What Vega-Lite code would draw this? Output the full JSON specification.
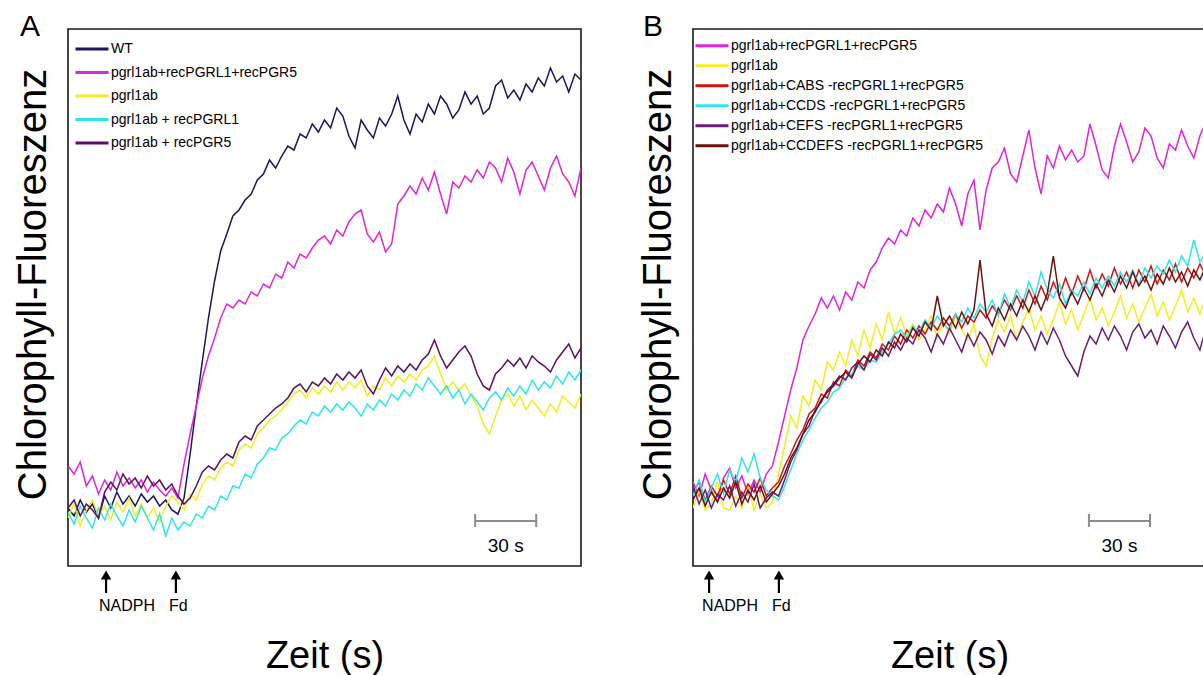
{
  "$schema": "https://vega.github.io/schema/vega-lite/v6.json",
  "background": "white",
  "padding": {"left": 12, "top": 10, "right": 0, "bottom": 0},
  "spacing": 55,
  "resolve": {"scale": {"color": "independent"}, "legend": {"color": "independent"}},
  "config": {
    "font": "Liberation Sans",
    "view": {"stroke": "#1a1a1a", "strokeWidth": 1.6},
    "axis": {"grid": false, "labels": false, "ticks": false, "domain": false, "titleFont": "Liberation Sans", "titleFontWeight": "normal", "titleColor": "black"},
    "title": {"font": "Liberation Sans", "fontWeight": "normal", "color": "black"}
  },
  "datasets": {
    "a": [
      {"t":0,"WT":58,"M":100,"Y":48,"C":54,"P":58},
      {"t":3,"WT":50,"M":92,"Y":62,"C":42,"P":66},
      {"t":6,"WT":66,"M":104,"Y":40,"C":60,"P":50},
      {"t":9,"WT":54,"M":80,"Y":56,"C":48,"P":62},
      {"t":12,"WT":62,"M":90,"Y":66,"C":38,"P":56},
      {"t":15,"WT":48,"M":72,"Y":50,"C":58,"P":48},
      {"t":18,"WT":70,"M":86,"Y":60,"C":46,"P":74},
      {"t":21,"WT":58,"M":76,"Y":46,"C":62,"P":84},
      {"t":24,"WT":74,"M":94,"Y":64,"C":50,"P":76},
      {"t":27,"WT":62,"M":80,"Y":54,"C":40,"P":92},
      {"t":30,"WT":70,"M":88,"Y":68,"C":56,"P":82},
      {"t":33,"WT":60,"M":78,"Y":50,"C":44,"P":88},
      {"t":36,"WT":72,"M":86,"Y":62,"C":60,"P":78},
      {"t":39,"WT":64,"M":74,"Y":48,"C":48,"P":90},
      {"t":42,"WT":70,"M":84,"Y":58,"C":36,"P":80},
      {"t":45,"WT":60,"M":76,"Y":44,"C":52,"P":86},
      {"t":48,"WT":66,"M":70,"Y":60,"C":30,"P":76},
      {"t":51,"WT":56,"M":78,"Y":70,"C":48,"P":82},
      {"t":54,"WT":52,"M":68,"Y":64,"C":36,"P":70},
      {"t":57,"WT":68,"M":102,"Y":56,"C":44,"P":62},
      {"t":60,"WT":112,"M":132,"Y":72,"C":40,"P":68},
      {"t":63,"WT":160,"M":160,"Y":66,"C":52,"P":80},
      {"t":66,"WT":205,"M":188,"Y":82,"C":48,"P":94},
      {"t":69,"WT":248,"M":210,"Y":90,"C":60,"P":100},
      {"t":72,"WT":285,"M":228,"Y":86,"C":56,"P":96},
      {"t":75,"WT":315,"M":248,"Y":98,"C":70,"P":106},
      {"t":78,"WT":332,"M":262,"Y":104,"C":66,"P":112},
      {"t":81,"WT":350,"M":258,"Y":100,"C":80,"P":108},
      {"t":84,"WT":356,"M":266,"Y":116,"C":78,"P":124},
      {"t":87,"WT":366,"M":262,"Y":122,"C":92,"P":130},
      {"t":90,"WT":372,"M":274,"Y":118,"C":88,"P":126},
      {"t":93,"WT":386,"M":270,"Y":132,"C":102,"P":140},
      {"t":96,"WT":392,"M":282,"Y":138,"C":108,"P":146},
      {"t":99,"WT":406,"M":278,"Y":146,"C":118,"P":152},
      {"t":102,"WT":398,"M":292,"Y":150,"C":116,"P":158},
      {"t":105,"WT":410,"M":288,"Y":156,"C":128,"P":162},
      {"t":108,"WT":420,"M":304,"Y":164,"C":132,"P":168},
      {"t":111,"WT":416,"M":298,"Y":172,"C":140,"P":178},
      {"t":114,"WT":432,"M":312,"Y":176,"C":146,"P":182},
      {"t":117,"WT":428,"M":308,"Y":168,"C":142,"P":174},
      {"t":120,"WT":442,"M":318,"Y":178,"C":154,"P":184},
      {"t":123,"WT":434,"M":326,"Y":172,"C":150,"P":180},
      {"t":126,"WT":446,"M":330,"Y":180,"C":160,"P":188},
      {"t":129,"WT":438,"M":322,"Y":174,"C":154,"P":182},
      {"t":132,"WT":458,"M":336,"Y":184,"C":162,"P":192},
      {"t":135,"WT":450,"M":330,"Y":176,"C":156,"P":186},
      {"t":138,"WT":430,"M":344,"Y":184,"C":164,"P":194},
      {"t":141,"WT":418,"M":352,"Y":178,"C":158,"P":188},
      {"t":144,"WT":446,"M":356,"Y":186,"C":150,"P":196},
      {"t":147,"WT":436,"M":332,"Y":170,"C":162,"P":180},
      {"t":150,"WT":428,"M":324,"Y":180,"C":156,"P":172},
      {"t":153,"WT":448,"M":334,"Y":176,"C":166,"P":186},
      {"t":156,"WT":440,"M":314,"Y":188,"C":160,"P":198},
      {"t":159,"WT":452,"M":322,"Y":180,"C":172,"P":190},
      {"t":162,"WT":470,"M":362,"Y":190,"C":166,"P":200},
      {"t":165,"WT":446,"M":370,"Y":184,"C":176,"P":194},
      {"t":168,"WT":432,"M":380,"Y":192,"C":170,"P":202},
      {"t":171,"WT":452,"M":372,"Y":186,"C":182,"P":196},
      {"t":174,"WT":444,"M":388,"Y":196,"C":176,"P":206},
      {"t":177,"WT":462,"M":376,"Y":200,"C":188,"P":212},
      {"t":180,"WT":452,"M":394,"Y":210,"C":180,"P":226},
      {"t":183,"WT":470,"M":372,"Y":192,"C":172,"P":210},
      {"t":186,"WT":462,"M":352,"Y":176,"C":180,"P":198},
      {"t":189,"WT":448,"M":384,"Y":184,"C":168,"P":206},
      {"t":192,"WT":456,"M":378,"Y":176,"C":176,"P":214},
      {"t":195,"WT":474,"M":390,"Y":182,"C":162,"P":220},
      {"t":198,"WT":462,"M":384,"Y":170,"C":172,"P":210},
      {"t":201,"WT":470,"M":396,"Y":160,"C":164,"P":192},
      {"t":204,"WT":452,"M":388,"Y":142,"C":156,"P":180},
      {"t":207,"WT":458,"M":404,"Y":132,"C":168,"P":176},
      {"t":210,"WT":480,"M":398,"Y":150,"C":174,"P":192},
      {"t":213,"WT":486,"M":384,"Y":166,"C":166,"P":198},
      {"t":216,"WT":468,"M":408,"Y":172,"C":178,"P":206},
      {"t":219,"WT":476,"M":394,"Y":160,"C":170,"P":200},
      {"t":222,"WT":466,"M":372,"Y":170,"C":180,"P":208},
      {"t":225,"WT":482,"M":396,"Y":156,"C":172,"P":198},
      {"t":228,"WT":474,"M":404,"Y":166,"C":186,"P":210},
      {"t":231,"WT":488,"M":390,"Y":158,"C":176,"P":204},
      {"t":234,"WT":480,"M":376,"Y":150,"C":184,"P":200},
      {"t":237,"WT":498,"M":398,"Y":162,"C":178,"P":194},
      {"t":240,"WT":484,"M":410,"Y":154,"C":190,"P":206},
      {"t":243,"WT":490,"M":392,"Y":170,"C":182,"P":214},
      {"t":246,"WT":474,"M":384,"Y":164,"C":194,"P":222},
      {"t":249,"WT":492,"M":370,"Y":158,"C":186,"P":208},
      {"t":252,"WT":486,"M":398,"Y":172,"C":196,"P":218}
    ],
    "b": [
      {"t":0,"M":84,"Y":58,"R":74,"C":70,"P":80,"B":66},
      {"t":3,"M":70,"Y":76,"R":84,"C":86,"P":62,"B":78},
      {"t":6,"M":92,"Y":56,"R":66,"C":64,"P":76,"B":60},
      {"t":9,"M":76,"Y":62,"R":80,"C":78,"P":58,"B":74},
      {"t":12,"M":64,"Y":84,"R":70,"C":92,"P":72,"B":64},
      {"t":15,"M":88,"Y":58,"R":86,"C":72,"P":66,"B":78},
      {"t":18,"M":98,"Y":56,"R":72,"C":96,"P":80,"B":68},
      {"t":21,"M":78,"Y":70,"R":90,"C":84,"P":60,"B":84},
      {"t":24,"M":90,"Y":58,"R":68,"C":108,"P":74,"B":62},
      {"t":27,"M":72,"Y":80,"R":82,"C":94,"P":64,"B":76},
      {"t":30,"M":86,"Y":56,"R":74,"C":112,"P":82,"B":66},
      {"t":33,"M":74,"Y":72,"R":88,"C":88,"P":58,"B":80},
      {"t":36,"M":92,"Y":58,"R":70,"C":76,"P":68,"B":64},
      {"t":39,"M":100,"Y":64,"R":78,"C":70,"P":74,"B":72},
      {"t":42,"M":124,"Y":92,"R":84,"C":66,"P":70,"B":80},
      {"t":45,"M":150,"Y":120,"R":100,"C":80,"P":86,"B":92},
      {"t":48,"M":176,"Y":150,"R":112,"C":96,"P":104,"B":108},
      {"t":51,"M":198,"Y":138,"R":126,"C":112,"P":116,"B":118},
      {"t":54,"M":226,"Y":170,"R":136,"C":126,"P":132,"B":132},
      {"t":57,"M":240,"Y":160,"R":152,"C":136,"P":140,"B":146},
      {"t":60,"M":252,"Y":186,"R":158,"C":148,"P":156,"B":154},
      {"t":63,"M":268,"Y":176,"R":172,"C":158,"P":164,"B":166},
      {"t":66,"M":258,"Y":204,"R":168,"C":164,"P":176,"B":174},
      {"t":69,"M":270,"Y":196,"R":184,"C":174,"P":182,"B":180},
      {"t":72,"M":256,"Y":214,"R":180,"C":178,"P":190,"B":188},
      {"t":75,"M":274,"Y":200,"R":196,"C":188,"P":186,"B":194},
      {"t":78,"M":266,"Y":226,"R":190,"C":192,"P":198,"B":188},
      {"t":81,"M":284,"Y":210,"R":206,"C":200,"P":204,"B":202},
      {"t":84,"M":278,"Y":236,"R":200,"C":196,"P":196,"B":210},
      {"t":87,"M":296,"Y":218,"R":214,"C":206,"P":212,"B":204},
      {"t":90,"M":304,"Y":242,"R":208,"C":204,"P":206,"B":216},
      {"t":93,"M":318,"Y":226,"R":222,"C":214,"P":218,"B":210},
      {"t":96,"M":328,"Y":254,"R":216,"C":222,"P":210,"B":224},
      {"t":99,"M":322,"Y":232,"R":230,"C":232,"P":224,"B":218},
      {"t":102,"M":336,"Y":248,"R":222,"C":236,"P":216,"B":232},
      {"t":105,"M":330,"Y":230,"R":236,"C":228,"P":228,"B":224},
      {"t":108,"M":348,"Y":242,"R":228,"C":240,"P":222,"B":238},
      {"t":111,"M":340,"Y":226,"R":240,"C":234,"P":236,"B":230},
      {"t":114,"M":356,"Y":236,"R":232,"C":246,"P":228,"B":244},
      {"t":117,"M":348,"Y":250,"R":244,"C":238,"P":214,"B":236},
      {"t":120,"M":362,"Y":228,"R":236,"C":250,"P":232,"B":270},
      {"t":123,"M":354,"Y":244,"R":248,"C":242,"P":222,"B":240},
      {"t":126,"M":378,"Y":232,"R":240,"C":236,"P":238,"B":250},
      {"t":129,"M":362,"Y":250,"R":252,"C":252,"P":226,"B":238},
      {"t":132,"M":340,"Y":236,"R":238,"C":244,"P":214,"B":254},
      {"t":135,"M":372,"Y":226,"R":250,"C":258,"P":232,"B":242},
      {"t":138,"M":386,"Y":242,"R":244,"C":248,"P":220,"B":256},
      {"t":141,"M":336,"Y":210,"R":256,"C":262,"P":234,"B":306},
      {"t":144,"M":376,"Y":200,"R":248,"C":254,"P":226,"B":252},
      {"t":147,"M":398,"Y":228,"R":260,"C":266,"P":212,"B":240},
      {"t":150,"M":404,"Y":246,"R":252,"C":250,"P":230,"B":258},
      {"t":153,"M":418,"Y":234,"R":266,"C":272,"P":220,"B":246},
      {"t":156,"M":392,"Y":250,"R":256,"C":258,"P":236,"B":262},
      {"t":159,"M":384,"Y":226,"R":270,"C":276,"P":226,"B":250},
      {"t":162,"M":410,"Y":244,"R":258,"C":264,"P":240,"B":266},
      {"t":165,"M":436,"Y":258,"R":276,"C":284,"P":230,"B":254},
      {"t":168,"M":398,"Y":236,"R":262,"C":270,"P":216,"B":270},
      {"t":171,"M":372,"Y":250,"R":280,"C":294,"P":234,"B":256},
      {"t":174,"M":410,"Y":232,"R":266,"C":276,"P":222,"B":272},
      {"t":177,"M":398,"Y":246,"R":284,"C":268,"P":238,"B":310},
      {"t":180,"M":420,"Y":264,"R":270,"C":282,"P":226,"B":268},
      {"t":183,"M":406,"Y":242,"R":288,"C":262,"P":210,"B":258},
      {"t":186,"M":416,"Y":256,"R":272,"C":276,"P":200,"B":274},
      {"t":189,"M":404,"Y":236,"R":290,"C":270,"P":190,"B":262},
      {"t":192,"M":410,"Y":252,"R":276,"C":284,"P":214,"B":278},
      {"t":195,"M":442,"Y":268,"R":296,"C":272,"P":230,"B":266},
      {"t":198,"M":420,"Y":246,"R":278,"C":288,"P":222,"B":282},
      {"t":201,"M":396,"Y":258,"R":292,"C":278,"P":238,"B":270},
      {"t":204,"M":388,"Y":240,"R":280,"C":290,"P":226,"B":286},
      {"t":207,"M":420,"Y":254,"R":298,"C":280,"P":240,"B":274},
      {"t":210,"M":442,"Y":270,"R":282,"C":294,"P":230,"B":290},
      {"t":213,"M":424,"Y":248,"R":294,"C":284,"P":216,"B":278},
      {"t":216,"M":404,"Y":262,"R":278,"C":296,"P":234,"B":294},
      {"t":219,"M":414,"Y":244,"R":296,"C":282,"P":242,"B":280},
      {"t":222,"M":438,"Y":258,"R":284,"C":298,"P":228,"B":290},
      {"t":225,"M":430,"Y":272,"R":300,"C":288,"P":236,"B":276},
      {"t":228,"M":408,"Y":250,"R":282,"C":300,"P":222,"B":292},
      {"t":231,"M":398,"Y":264,"R":296,"C":292,"P":240,"B":282},
      {"t":234,"M":422,"Y":246,"R":286,"C":306,"P":230,"B":298},
      {"t":237,"M":416,"Y":260,"R":302,"C":294,"P":218,"B":284},
      {"t":240,"M":436,"Y":276,"R":284,"C":310,"P":234,"B":294},
      {"t":243,"M":420,"Y":254,"R":298,"C":300,"P":244,"B":280},
      {"t":246,"M":408,"Y":268,"R":288,"C":326,"P":228,"B":296},
      {"t":249,"M":430,"Y":252,"R":302,"C":304,"P":216,"B":286},
      {"t":252,"M":444,"Y":270,"R":290,"C":314,"P":238,"B":300}
    ]
  },
  "hconcat": [
    {
      "width": 513,
      "height": 537,
      "title": {"text": "A", "anchor": "start", "frame": "group", "dx": -48, "dy": 29.5, "offset": -13, "baseline": "bottom", "fontSize": 30},
      "layer": [
        {
          "data": {"name": "a"},
          "transform": [{"fold": ["WT", "M", "Y", "C", "P"], "as": ["s", "v"]}],
          "mark": {"type": "line", "strokeWidth": 1.5, "clip": true},
          "encoding": {
            "x": {"field": "t", "type": "quantitative", "scale": {"domain": [0, 252], "nice": false, "zero": false},
                  "axis": {"title": "Zeit (s)", "titleFontSize": 38, "titlePadding": 71}},
            "y": {"field": "v", "type": "quantitative", "scale": {"domain": [0, 537], "nice": false},
                  "axis": {"title": "Chlorophyll-Fluoreszenz", "titleFontSize": 40, "titlePadding": 15, "titleY": 255}},
            "color": {"field": "s", "type": "nominal",
                      "scale": {"domain": ["WT", "M", "Y", "C", "P"], "range": ["#1b1464", "#e024d8", "#f2ee22", "#2ee6ea", "#5c1060"]},
                      "legend": {"title": null, "orient": "none", "legendX": 6, "legendY": 10, "padding": 0,
                                 "symbolType": "stroke", "symbolSize": 1089, "symbolStrokeWidth": 3, "clipHeight": 20,
                                 "labelFontSize": 14, "labelColor": "black", "labelLimit": 400, "labelOffset": 1, "rowPadding": 3.5,
                                 "labelExpr": "datum.label == 'WT' ? 'WT' : datum.label == 'M' ? 'pgrl1ab+recPGRL1+recPGR5' : datum.label == 'Y' ? 'pgrl1ab' : datum.label == 'C' ? 'pgrl1ab + recPGRL1' : 'pgrl1ab + recPGR5'"}}
          }
        },
        {
          "data": {"values": [{"t": 18.7, "lab": "NADPH"}, {"t": 53, "lab": "Fd"}]},
          "mark": {"type": "rule", "strokeWidth": 2.2, "color": "black"},
          "encoding": {"x": {"field": "t", "type": "quantitative"}, "y": {"datum": -13}, "y2": {"datum": -27}}
        },
        {
          "data": {"values": [{"t": 18.7, "lab": "NADPH"}, {"t": 53, "lab": "Fd"}]},
          "mark": {"type": "point", "shape": "triangle-up", "filled": true, "size": 110, "color": "black", "opacity": 1},
          "encoding": {"x": {"field": "t", "type": "quantitative"}, "y": {"datum": -9}}
        },
        {
          "data": {"values": [{"t": 18.7, "lab": "NADPH"}, {"t": 53, "lab": "Fd"}]},
          "mark": {"type": "text", "align": "left", "dx": -7, "baseline": "middle", "fontSize": 16, "color": "black"},
          "encoding": {"x": {"field": "t", "type": "quantitative"}, "y": {"datum": -40}, "text": {"field": "lab"}}
        },
        {
          "data": {"values": [{"t0": 200, "t1": 230}]},
          "mark": {"type": "rule", "strokeWidth": 2, "color": "#8c8c8c"},
          "encoding": {"x": {"field": "t0", "type": "quantitative"}, "x2": {"field": "t1"}, "y": {"datum": 45}}
        },
        {
          "data": {"values": [{"t": 200}, {"t": 230}]},
          "mark": {"type": "rule", "strokeWidth": 2, "color": "#8c8c8c"},
          "encoding": {"x": {"field": "t", "type": "quantitative"}, "y": {"datum": 39}, "y2": {"datum": 52}}
        },
        {
          "data": {"values": [{"t": 215, "lab": "30 s"}]},
          "mark": {"type": "text", "align": "center", "baseline": "alphabetic", "fontSize": 19, "color": "black"},
          "encoding": {"x": {"field": "t", "type": "quantitative"}, "y": {"datum": 14}, "text": {"field": "lab"}}
        }
      ]
    },
    {
      "width": 513,
      "height": 537,
      "title": {"text": "B", "anchor": "start", "frame": "group", "dx": -50, "dy": 29.5, "offset": -13, "baseline": "bottom", "fontSize": 30},
      "layer": [
        {
          "data": {"name": "b"},
          "transform": [{"fold": ["M", "Y", "R", "C", "P", "B"], "as": ["s", "v"]}],
          "mark": {"type": "line", "strokeWidth": 1.5, "clip": true},
          "encoding": {
            "x": {"field": "t", "type": "quantitative", "scale": {"domain": [0, 252], "nice": false, "zero": false},
                  "axis": {"title": "Zeit (s)", "titleFontSize": 38, "titlePadding": 71}},
            "y": {"field": "v", "type": "quantitative", "scale": {"domain": [0, 537], "nice": false},
                  "axis": {"title": "Chlorophyll-Fluoreszenz", "titleFontSize": 40, "titlePadding": 15, "titleY": 255}},
            "color": {"field": "s", "type": "nominal",
                      "scale": {"domain": ["M", "Y", "R", "C", "P", "B"], "range": ["#e024d8", "#f2ee22", "#d11414", "#2ee6ea", "#6a1a78", "#6b0f0f"]},
                      "legend": {"title": null, "orient": "none", "legendX": 1, "legendY": 8, "padding": 0,
                                 "symbolType": "stroke", "symbolSize": 1089, "symbolStrokeWidth": 3, "clipHeight": 17.5,
                                 "labelFontSize": 14, "labelColor": "black", "labelLimit": 400, "labelOffset": 1, "rowPadding": 2,
                                 "labelExpr": "datum.label == 'M' ? 'pgrl1ab+recPGRL1+recPGR5' : datum.label == 'Y' ? 'pgrl1ab' : datum.label == 'R' ? 'pgrl1ab+CABS  -recPGRL1+recPGR5' : datum.label == 'C' ? 'pgrl1ab+CCDS  -recPGRL1+recPGR5' : datum.label == 'P' ? 'pgrl1ab+CEFS  -recPGRL1+recPGR5' : 'pgrl1ab+CCDEFS    -recPGRL1+recPGR5'"}}
          }
        },
        {
          "data": {"values": [{"t": 7.9, "lab": "NADPH"}, {"t": 42.2, "lab": "Fd"}]},
          "mark": {"type": "rule", "strokeWidth": 2.2, "color": "black"},
          "encoding": {"x": {"field": "t", "type": "quantitative"}, "y": {"datum": -13}, "y2": {"datum": -27}}
        },
        {
          "data": {"values": [{"t": 7.9, "lab": "NADPH"}, {"t": 42.2, "lab": "Fd"}]},
          "mark": {"type": "point", "shape": "triangle-up", "filled": true, "size": 110, "color": "black", "opacity": 1},
          "encoding": {"x": {"field": "t", "type": "quantitative"}, "y": {"datum": -9}}
        },
        {
          "data": {"values": [{"t": 7.9, "lab": "NADPH"}, {"t": 42.2, "lab": "Fd"}]},
          "mark": {"type": "text", "align": "left", "dx": -7, "baseline": "middle", "fontSize": 16, "color": "black"},
          "encoding": {"x": {"field": "t", "type": "quantitative"}, "y": {"datum": -40}, "text": {"field": "lab"}}
        },
        {
          "data": {"values": [{"t0": 194.5, "t1": 224.5}]},
          "mark": {"type": "rule", "strokeWidth": 2, "color": "#8c8c8c"},
          "encoding": {"x": {"field": "t0", "type": "quantitative"}, "x2": {"field": "t1"}, "y": {"datum": 45}}
        },
        {
          "data": {"values": [{"t": 194.5}, {"t": 224.5}]},
          "mark": {"type": "rule", "strokeWidth": 2, "color": "#8c8c8c"},
          "encoding": {"x": {"field": "t", "type": "quantitative"}, "y": {"datum": 39}, "y2": {"datum": 52}}
        },
        {
          "data": {"values": [{"t": 209.5, "lab": "30 s"}]},
          "mark": {"type": "text", "align": "center", "baseline": "alphabetic", "fontSize": 19, "color": "black"},
          "encoding": {"x": {"field": "t", "type": "quantitative"}, "y": {"datum": 14}, "text": {"field": "lab"}}
        }
      ]
    }
  ]
}
